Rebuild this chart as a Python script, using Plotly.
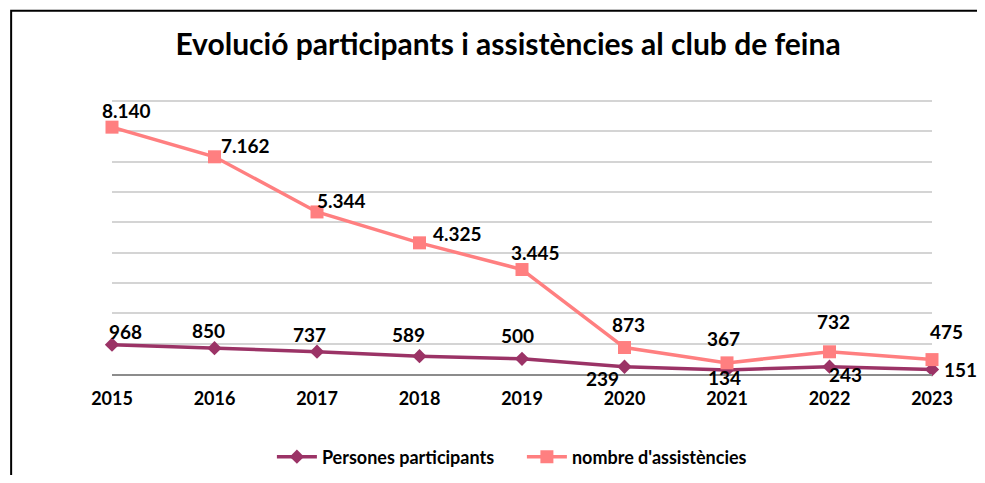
import plotly.graph_objects as go

years = ["2015", "2016", "2017", "2018", "2019", "2020", "2021", "2022", "2023"]
participants = [968, 850, 737, 589, 500, 239, 134, 243, 151]
assistencies = [8140, 7162, 5344, 4325, 3445, 873, 367, 732, 475]

# label offsets in pixels (dx, dy up) relative to each marker
participants_off = [(13, 13), (-6, 18), (-8, 17), (-11, 22), (-5, 23),
                    (-22, -12), (-3, -8), (16, -8), (28, 0)]
assistencies_off = [(14, 17), (31, 11), (24, 11), (38, 9), (13, 17),
                    (4, 23), (-4, 24), (4, 30), (14, 28)]

PURPLE = "#9B3366"
PINK = "#FF7F80"
FONT = "Lato"


def fmt(v):
    # thousands separator as dot (Catalan style)
    return f"{v:,}".replace(",", ".")


fig = go.Figure()
fig.add_trace(go.Scatter(
    x=years, y=participants, name="Persones participants",
    mode="lines+markers",
    line=dict(color=PURPLE, width=3.5),
    marker=dict(symbol="diamond", size=11, color=PURPLE),
    cliponaxis=False,
))
fig.add_trace(go.Scatter(
    x=years, y=assistencies, name="nombre d'assistències",
    mode="lines+markers",
    line=dict(color=PINK, width=3.5),
    marker=dict(symbol="square", size=13, color=PINK),
    cliponaxis=False,
))

# data labels; category axis positions are the serial index of each year
for series, offsets in [(participants, participants_off), (assistencies, assistencies_off)]:
    for i, (v, (dx, dy)) in enumerate(zip(series, offsets)):
        fig.add_annotation(
            x=i, y=v, text=f"<b>{fmt(v)}</b>", showarrow=False,
            xshift=dx, yshift=dy,
            font=dict(family=FONT, size=19, color="black"),
        )

fig.update_layout(
    width=969, height=467,
    margin=dict(l=104, r=45, t=87, b=101),
    paper_bgcolor="white", plot_bgcolor="white",
    font=dict(family=FONT, color="black"),
    title=dict(text="<b>Evolució participants i assistències al club de feina</b>",
               x=0.516, xanchor="center", y=0.921, yanchor="middle",
               font=dict(family=FONT, size=30, color="black")),
    showlegend=True,
    legend=dict(orientation="h", x=0.195, xanchor="left",
                yref="container", y=0.0385, yanchor="middle",
                font=dict(family=FONT, size=18, color="black", weight="bold"),
                itemwidth=40, entrywidth=195, entrywidthmode="pixels",
                traceorder="normal"),
    shapes=[dict(type="rect", xref="paper", yref="paper",
                 x0=-0.123, x1=1.1, y0=-0.5, y1=1.302,
                 line=dict(color="black", width=2), layer="below")],
)
fig.update_xaxes(
    type="category", range=[0, 8], showgrid=False, showline=True,
    linecolor="#8C8C8C", linewidth=1.5,
    ticks="", tickfont=dict(family=FONT, size=18, color="black", weight="bold"),
    ticklabelstandoff=8, zeroline=False,
)
fig.update_yaxes(
    range=[0, 9200], tick0=0, dtick=1000, showgrid=True, gridcolor="#D4D4D4", gridwidth=1.5,
    showticklabels=False, zeroline=False, showline=False,
)

fig.write_html("out.html")
